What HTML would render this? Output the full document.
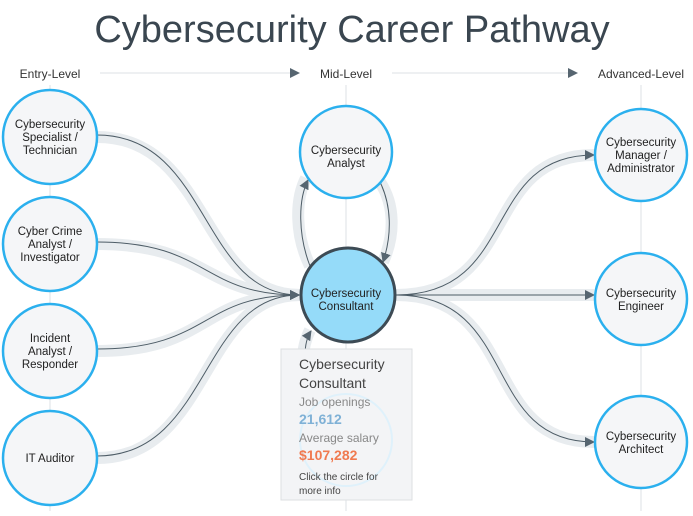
<!DOCTYPE html>
<html><head><style>
body{margin:0;background:#fff;font-family:"Liberation Sans",sans-serif;}
</style></head><body>
<svg width="693" height="511" viewBox="0 0 693 511" xmlns="http://www.w3.org/2000/svg" font-family="Liberation Sans, sans-serif">
<defs><marker id="a" markerWidth="10" markerHeight="10" refX="9" refY="5" orient="auto" markerUnits="userSpaceOnUse"><path d="M0,0 L10,5 L0,10 z" fill="#566570"/></marker></defs>
<text x="352" y="42" font-size="38" fill="#3a4650" text-anchor="middle">Cybersecurity Career Pathway</text>
<g font-size="12" fill="#333" text-anchor="middle">
<text x="50" y="78">Entry-Level</text><text x="346" y="78">Mid-Level</text><text x="641" y="78">Advanced-Level</text></g>
<g stroke="#eef0f2" stroke-width="2"><line x1="100" y1="73" x2="290" y2="73"/><line x1="392" y1="73" x2="568" y2="73"/>
<line x1="50" y1="85" x2="50" y2="511"/><line x1="346" y1="85" x2="346" y2="511"/><line x1="641" y1="85" x2="641" y2="511"/></g>
<path d="M290,68 L300,73 L290,78z M568,68 L578,73 L568,78z" fill="#566570"/>
<g fill="none" stroke="#e8ecef" stroke-width="12">
<path d="M97,137 C210,137 200,295 300,295"/><path d="M97,244 C210,244 200,295 300,295"/><path d="M97,351 C210,351 200,295 300,295"/><path d="M97,458 C210,458 200,295 300,295"/>
<path d="M396,295 C520,295 480,155 594,155"/><path d="M396,295 L594,295"/><path d="M396,295 C520,295 480,442 594,442"/>
<path d="M310,266 C295,235 295,200 306,178"/><path d="M380,182 C395,205 395,235 383,262"/><path d="M310,330 C305,340 303,350 303,360"/>
</g>
<g fill="none" stroke="#4d5c66" stroke-width="1" marker-end="url(#a)">
<path d="M97,135 C210,135 200,295 299,295"/><path d="M97,242 C210,242 200,295 299,295"/><path d="M97,349 C210,349 200,295 299,295"/><path d="M97,456 C210,456 200,295 299,295"/>
<path d="M396,295 C520,295 480,155 594,155"/><path d="M396,295 L594,295"/><path d="M396,295 C520,295 480,442 594,442"/>
<path d="M310,266 C298,235 298,200 308,180"/><path d="M379,180 C392,205 392,235 383,262"/><path d="M305,356 C305,345 307,337 311,331"/>
</g>
<g fill="#f5f6f8" stroke="#2bb0ee" stroke-width="2.5">
<circle cx="50" cy="137" r="47"/><circle cx="50" cy="244" r="47"/><circle cx="50" cy="351" r="47"/><circle cx="50" cy="458" r="47"/>
<circle cx="346" cy="152" r="46"/><circle cx="641" cy="155" r="46"/><circle cx="641" cy="299" r="46"/><circle cx="641" cy="442" r="46"/>
</g>
<circle cx="348" cy="295" r="47" fill="#95dbf9" stroke="#3d4b55" stroke-width="3"/>
<g font-size="11.5" fill="#222" text-anchor="middle">
<text x="50" y="128">Cybersecurity</text><text x="50" y="141">Specialist /</text><text x="50" y="154">Technician</text>
<text x="50" y="235">Cyber Crime</text><text x="50" y="248">Analyst /</text><text x="50" y="261">Investigator</text>
<text x="50" y="342">Incident</text><text x="50" y="355">Analyst /</text><text x="50" y="368">Responder</text>
<text x="50" y="462">IT Auditor</text>
<text x="346" y="154">Cybersecurity</text><text x="346" y="167">Analyst</text>
<text x="346" y="297">Cybersecurity</text><text x="346" y="310">Consultant</text>
<text x="641" y="146">Cybersecurity</text><text x="641" y="159">Manager /</text><text x="641" y="172">Administrator</text>
<text x="641" y="297">Cybersecurity</text><text x="641" y="310">Engineer</text>
<text x="641" y="440">Cybersecurity</text><text x="641" y="453">Architect</text>
</g>
<rect x="281" y="349" width="131" height="151" fill="#f3f4f6" stroke="#dcdfe2"/>
<circle cx="346" cy="440" r="46" fill="none" stroke="#dff1fb" stroke-width="2"/>
<text x="299" y="369" font-size="14" fill="#444">Cybersecurity</text>
<text x="299" y="388" font-size="14" fill="#444">Consultant</text>
<text x="299" y="406" font-size="12" fill="#888">Job openings</text>
<text x="299" y="424" font-size="14" font-weight="bold" fill="#7fb1d6">21,612</text>
<text x="299" y="442" font-size="12" fill="#888">Average salary</text>
<text x="299" y="460" font-size="14" font-weight="bold" fill="#f07a50">$107,282</text>
<text x="299" y="480" font-size="10" fill="#444">Click the circle for</text>
<text x="299" y="494" font-size="10" fill="#444">more info</text>
</svg>
</body></html>
